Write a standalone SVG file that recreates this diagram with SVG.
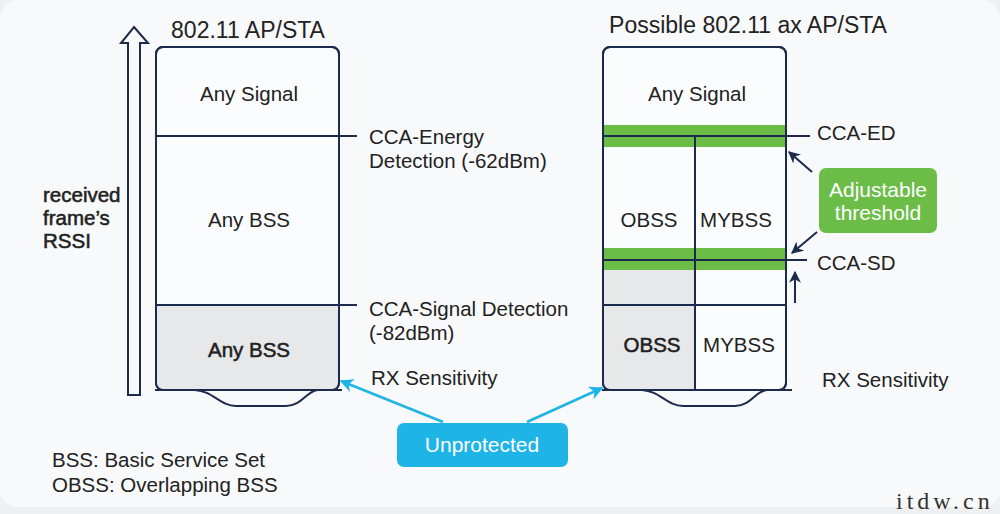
<svg xmlns="http://www.w3.org/2000/svg" width="1000" height="514" viewBox="0 0 1000 514">
<defs>
<style>
.t{font-family:"Liberation Sans",Arial,sans-serif;fill:#222;font-size:20.5px}
.c{text-anchor:middle}
.m{stroke:#222;stroke-width:0.55px}
.ttl{font-size:23px}
.w{fill:#fff;font-size:21px}
.ln{stroke:#1c2b4c;stroke-width:2;fill:none}
.box{fill:#fbfcfd;stroke:#1c2b4c;stroke-width:2}
.gray{fill:#e7e8ea}
.green{fill:#6bbd47}
.cy{stroke:#1eb4e6;stroke-width:2.5;fill:none}
.nv{stroke:#1c2b4c;stroke-width:2;fill:none}
</style>
<marker id="ac" viewBox="0 0 10 10" refX="9" refY="5" markerWidth="5.5" markerHeight="5.5" orient="auto" markerUnits="strokeWidth"><path d="M0,0 L10,5 L0,10 L3,5 Z" fill="#1eb4e6"/></marker>
<marker id="an" viewBox="0 0 10 10" refX="9" refY="5" markerWidth="6" markerHeight="6" orient="auto" markerUnits="strokeWidth"><path d="M0,0 L10,5 L0,10 L3,5 Z" fill="#1c2b4c"/></marker>
<clipPath id="cl"><rect x="156" y="47" width="183" height="343" rx="7"/></clipPath>
<clipPath id="cr"><rect x="603" y="47" width="183" height="343" rx="7"/></clipPath>
</defs>
<rect x="0" y="0" width="1000" height="514" fill="#eef0f2"/>
<rect x="0" y="0" width="1000" height="507" rx="18" fill="#f8f9fa"/>

<g id="rssi-axis">
<polygon class="ln" points="134,27 148,43 140,43 140,395 128,395 128,43 121,43"/>
<text class="t m" x="43" y="202" font-size="19.5">received</text>
<text class="t m" x="43" y="225" font-size="19.5">frame’s</text>
<text class="t m" x="43" y="248" font-size="19.5">RSSI</text>
</g>

<g id="legacy-box">
<text class="t c ttl" x="248" y="38">802.11 AP/STA</text>
<rect class="box" x="156" y="47" width="183" height="343" rx="7"/>
<rect class="gray" x="156" y="305" width="183" height="90" clip-path="url(#cl)"/>
<rect x="156" y="47" width="183" height="343" rx="7" class="ln"/>
<text class="t c" x="249" y="101">Any Signal</text>
<text class="t c" x="249" y="227">Any BSS</text>
<text class="t c m" x="249" y="357">Any BSS</text>
<path class="ln" d="M155,390 H195 C213,391 220,406 236,406 H286 C302,406 306,391 318,390 H342"/>
</g>

<g id="legacy-thresholds">
<line class="ln" x1="156" y1="136" x2="357" y2="136"/>
<line class="ln" x1="156" y1="305" x2="357" y2="305"/>
<text class="t" x="369" y="144">CCA-Energy</text>
<text class="t" x="369" y="168">Detection (-62dBm)</text>
<text class="t" x="369" y="316">CCA-Signal Detection</text>
<text class="t" x="369" y="340">(-82dBm)</text>
<text class="t" x="371" y="385">RX Sensitivity</text>
</g>

<g id="ax-box">
<text class="t c ttl" x="748" y="33">Possible 802.11 ax AP/STA</text>
<rect class="box" x="603" y="47" width="183" height="343" rx="7"/>
<rect class="gray" x="603" y="270" width="92" height="125" clip-path="url(#cr)"/>
<rect class="green" x="603" y="125" width="183" height="22"/>
<rect class="green" x="603" y="248" width="183" height="22"/>
<line class="ln" x1="603" y1="136" x2="810" y2="136"/>
<line class="ln" x1="603" y1="260" x2="807" y2="260"/>
<line class="ln" x1="603" y1="305" x2="786" y2="305"/>
<line class="ln" x1="695" y1="136" x2="695" y2="390"/>
<rect x="603" y="47" width="183" height="343" rx="7" class="ln"/>
<text class="t c" x="697" y="101">Any Signal</text>
<text class="t c" x="649" y="227">OBSS</text>
<text class="t c" x="736" y="227">MYBSS</text>
<text class="t c m" x="652" y="352">OBSS</text>
<text class="t c" x="739" y="352">MYBSS</text>
<path class="ln" d="M602,390 H642 C660,391 667,406 683,406 H735 C751,406 755,391 767,390 H792"/>
<text class="t" x="817" y="140">CCA-ED</text>
<text class="t" x="817" y="270">CCA-SD</text>
<text class="t" x="822" y="387">RX Sensitivity</text>
</g>

<g id="adjustable">
<rect x="819" y="168" width="118" height="65" rx="7" fill="#6bbd47"/>
<text class="t c w" x="878" y="197">Adjustable</text>
<text class="t c w" x="878" y="220">threshold</text>
</g>

<g id="unprotected">
<rect x="397" y="423" width="171" height="44" rx="7" fill="#1eb4e6"/>
<text class="t c w" x="482" y="452">Unprotected</text>
</g>

<g id="connectors">
<line class="cy" x1="443" y1="422" x2="341" y2="381" marker-end="url(#ac)"/>
<line class="cy" x1="527" y1="422" x2="602" y2="388" marker-end="url(#ac)"/>
<line class="nv" x1="812" y1="172" x2="789" y2="152" marker-end="url(#an)"/>
<line class="nv" x1="817" y1="232" x2="792" y2="253" marker-end="url(#an)"/>
<line class="nv" x1="795" y1="303" x2="795" y2="272" marker-end="url(#an)"/>
</g>

<g id="legend">
<text class="t" x="52" y="467" font-size="20">BSS: Basic Service Set</text>
<text class="t" x="52" y="492" font-size="20">OBSS: Overlapping BSS</text>
</g>
<text x="896" y="509" font-family="Liberation Serif,serif" font-size="24" letter-spacing="4" fill="#333">itdw.cn</text>
</svg>
